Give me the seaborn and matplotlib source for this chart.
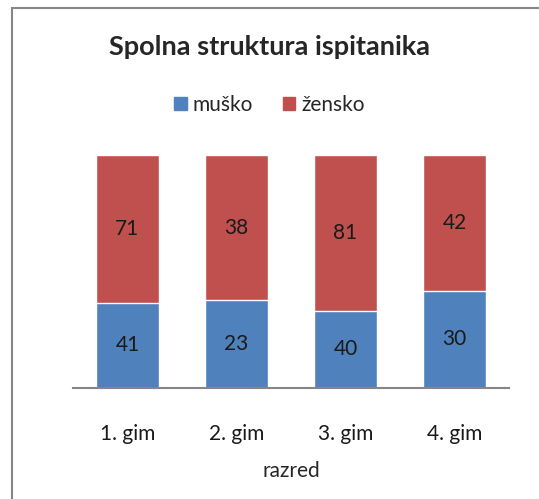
import numpy as np
import pandas as pd
import matplotlib
matplotlib.use("Agg")
import matplotlib.pyplot as plt
import seaborn as sns
from matplotlib.patches import Rectangle, Patch

razred = ["1. gim", "2. gim", "3. gim", "4. gim"]
musko = [41, 23, 40, 30]
zensko = [71, 38, 81, 42]

sns.set_style("white")
plt.rcParams["font.family"] = ["Lato", "DejaVu Sans"]

df = pd.DataFrame({"razred": razred, "musko": musko, "zensko": zensko})
df["ukupno"] = df["musko"] + df["zensko"]
df["udio_m"] = df["musko"] / df["ukupno"]
df["udio_sve"] = 1.0

plava = "#4F81BD"
crvena = "#C0504D"

fig = plt.figure(figsize=(5.39, 4.99), dpi=100)
ax = fig.add_axes([73 / 539, 1 - 388 / 499, 436 / 539, 233 / 499])

# 100% naslagani stupci: prvo cijeli stupac (žensko), pa muško preko
sns.barplot(data=df, x="razred", y="udio_sve", color=crvena, width=0.58,
            saturation=1, ax=ax)
sns.barplot(data=df, x="razred", y="udio_m", color=plava, width=0.58,
            saturation=1, ax=ax)

for i, row in df.iterrows():
    ax.text(i, row["udio_m"] / 2, str(row["musko"]), ha="center", va="center",
            fontsize=15, color="#1a1a1a")
    ax.text(i, row["udio_m"] + (1 - row["udio_m"]) / 2, str(row["zensko"]),
            ha="center", va="center", fontsize=15, color="#1a1a1a")

ax.set_ylim(0, 1)
ax.set_xlim(-0.5, 3.5)
ax.set_yticks([])
ax.set_ylabel("")
ax.set_xlabel("razred", fontsize=15, labelpad=12)
ax.tick_params(axis="x", labelsize=15, length=0, pad=26, labelcolor="#1a1a1a")
for s in ["top", "right", "left"]:
    ax.spines[s].set_visible(False)
ax.spines["bottom"].set_color("#868686")
ax.spines["bottom"].set_linewidth(1.5)

fig.text(0.5, 1 - 47 / 499, "Spolna struktura ispitanika", ha="center",
         va="center", fontsize=19.5, fontweight="bold")

handles = [Patch(color=plava, label="muško"), Patch(color=crvena, label="žensko")]
fig.legend(handles=handles, loc="center", bbox_to_anchor=(0.5, 1 - 105 / 499),
           ncol=2, frameon=False, fontsize=15, handlelength=0.6,
           handleheight=0.6, handletextpad=0.3, columnspacing=1.4)

# okvir grafikona
fig.patches.append(Rectangle((12 / 539, -0.1), 1.2, 1.1 - 8 / 499,
                             transform=fig.transFigure, fill=False,
                             edgecolor="#868686", linewidth=1.5))

fig.savefig("out.png", dpi=100)
